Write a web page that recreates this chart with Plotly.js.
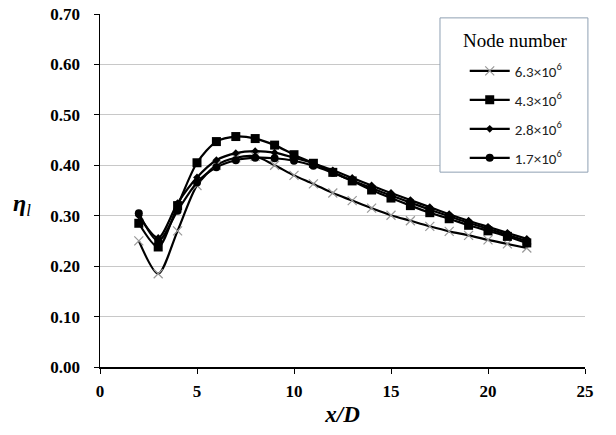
<!DOCTYPE html>
<html>
<head>
<meta charset="utf-8">
<script src="https://cdn.plot.ly/plotly-3.0.1.min.js"></script>
<style>html,body{margin:0;padding:0;background:#fff;}#chart{width:616px;height:435px;}</style>
</head>
<body>
<div id="chart"></div>
<script>
const xD = [2,3,4,5,6,7,8,9,10,11,12,13,14,15,16,17,18,19,20,21,22];
const seriesNames = ["6.3×10<sup>6</sup>","4.3×10<sup>6</sup>","2.8×10<sup>6</sup>","1.7×10<sup>6</sup>"];
const eta63 = [0.250,0.185,0.270,0.360,0.400,0.415,0.418,0.400,0.380,0.363,0.345,0.330,0.315,0.301,0.290,0.279,0.269,0.261,0.252,0.244,0.236];
const eta43 = [0.285,0.238,0.320,0.405,0.447,0.457,0.453,0.440,0.421,0.404,0.386,0.369,0.351,0.335,0.320,0.306,0.294,0.281,0.270,0.259,0.246];
const eta28 = [0.300,0.256,0.325,0.376,0.410,0.424,0.428,0.425,0.415,0.404,0.390,0.375,0.360,0.345,0.331,0.317,0.303,0.290,0.278,0.266,0.254];
const eta17 = [0.305,0.250,0.310,0.366,0.396,0.410,0.415,0.414,0.409,0.399,0.385,0.370,0.355,0.340,0.326,0.312,0.299,0.286,0.274,0.262,0.250];
const xTicks = [0,5,10,15,20,25];
const yTicks = [0,0.1,0.2,0.3,0.4,0.5,0.6,0.7];
const legendTitle = "Node number";

const markers = [
  {symbol:"x-thin-open", size:9, color:"#999", line:{color:"#999", width:1.2}},
  {symbol:"square", size:9, color:"#000"},
  {symbol:"diamond", size:6, color:"#000"},
  {symbol:"circle", size:8, color:"#000"}
];
const ys = [eta63, eta43, eta28, eta17];
const traces = ys.map((y,i)=>({
  x:xD, y:y, name:seriesNames[i], type:"scatter", mode:"lines+markers",
  legendgroup:"g"+i,
  line:{color:"#000", width:2.2, shape:"spline", smoothing:0.8},
  marker:markers[i]
}));

const tickFont = {family:"Liberation Serif, serif", size:17, weight:700, color:"#000"};
const layout = {
  width:616, height:435,
  margin:{l:100, r:31, t:14, b:68},
  paper_bgcolor:"#fff", plot_bgcolor:"#fff",
  font:{family:"Liberation Serif, Times New Roman, serif", color:"#000"},
  xaxis:{range:[0,25], tickvals:xTicks, ticktext:xTicks.map(v=>"<b>"+v+"</b>"),
    showgrid:false, zeroline:false, showline:true, linecolor:"#000", linewidth:1.5,
    ticks:"outside", ticklen:5, tickcolor:"#000", ticklabelstandoff:3,
    tickfont:tickFont,
    title:{text:"<b><i>x/D</i></b>", font:{family:"Liberation Serif, serif", size:23}, standoff:6}},
  yaxis:{range:[0,0.7], tickvals:yTicks, ticktext:yTicks.map(v=>"<b>"+v.toFixed(2)+"</b>"),
    showgrid:true, gridcolor:"#c8c8c8", gridwidth:1, zeroline:false,
    showline:true, linecolor:"#000", linewidth:1.5,
    ticks:"outside", ticklen:5, tickcolor:"#000", ticklabelstandoff:10,
    tickfont:tickFont},
  shapes:[{type:"rect", xref:"paper", yref:"paper", x0:0.701, x1:1.006, y0:0.552, y1:0.989,
    fillcolor:"#fff", line:{color:"#8fa0b3", width:1}, layer:"above"}],
  annotations:[
    {xref:"paper", yref:"paper", x:-0.16, y:0.459, xanchor:"center", yanchor:"middle", showarrow:false,
     text:"<b><i>η</i></b><sub><i>l</i></sub>", font:{family:"Liberation Serif, serif", size:24}},
    {xref:"paper", yref:"paper", x:0.856, y:0.926, xanchor:"center", yanchor:"middle", showarrow:false,
     text:legendTitle, font:{family:"Liberation Serif, serif", size:19, color:"#000"}}
  ],
  legend:{x:0.752, y:0.885, xanchor:"left", yanchor:"top",
    bgcolor:"rgba(0,0,0,0)", borderwidth:0,
    font:{family:"Carlito, Liberation Sans, Arial, sans-serif", size:15, color:"#222"},
    tracegroupgap:6.5, itemwidth:40},
  showlegend:true
};
Plotly.newPlot("chart", traces, layout, {displayModeBar:false, staticPlot:true});
</script>
</body>
</html>
